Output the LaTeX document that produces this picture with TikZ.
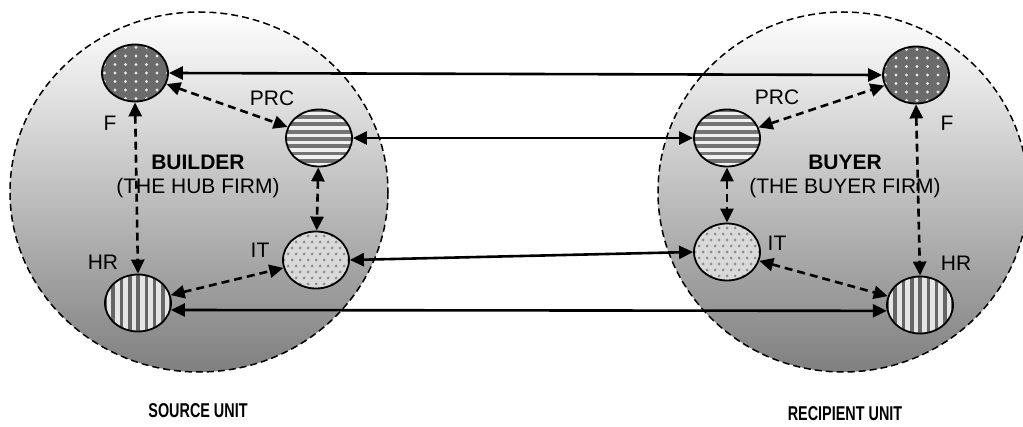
\documentclass[tikz,border=0pt]{standalone}
\usepackage{fontspec}
\setmainfont{Liberation Sans}
\usepackage{graphicx}
\usetikzlibrary{shapes.geometric,arrows.meta,calc}
\definecolor{fdark}{HTML}{6B6B6B}
\definecolor{itbg}{HTML}{D9D9D9}
\newcommand{\bigtxt}{\fontsize{21}{26}\selectfont}
\begin{document}
\begin{tikzpicture}[x=1pt,y=-1pt,
  unit/.style={draw=black,dash pattern=on 7pt off 4pt,line width=1.5pt,top color=white,bottom color=black!50,shading angle=0},
  dept/.style={ellipse,draw=black,line width=1.8pt,inner sep=0pt,minimum width=66pt,minimum height=57pt},
  ffill/.style={dept,fill=fdark,path picture={
     \foreach \i in {-3,...,3}{\foreach \j in {-4,...,4}{
       \fill[black!10] ($(path picture bounding box.center)+(\i*10.5+1,\j*8.5)$) circle (1.6pt);}}}},
  prcfill/.style={dept,fill=black!6,path picture={
     \foreach \j in {-4,...,4}{
       \draw[black!55,line width=3.8pt] ($(path picture bounding box.center)+(-40,\j*7.3+1)$) -- ++(80,0);}}},
  itfill/.style={dept,fill=itbg,path picture={
     \foreach \i in {-5,...,5}{\foreach \j in {-5,...,5}{
       \fill[black!45] ($(path picture bounding box.center)+(\i*8+\j*4,\j*6)$) circle (1.5pt);}}}},
  hrfill/.style={dept,fill=black!10,path picture={
     \foreach \i in {-5,...,5}{
       \draw[black!60,line width=3.6pt] ($(path picture bounding box.center)+(\i*8.3,-40)$) -- ++(0,80);}}},
  lbl/.style={font=\bigtxt,inner sep=0pt},
  unitlbl/.style={inner sep=0pt},
  solidarr/.style={{Triangle[length=14pt,width=13pt]}-{Triangle[length=14pt,width=13pt]},line width=2.6pt},
  dasharr/.style={{Triangle[length=14pt,width=13pt]}-{Triangle[length=14pt,width=13pt]},line width=2.6pt,dash pattern=on 8pt off 5pt}
]
\useasboundingbox (0,0) rectangle (1023,427);
% units
\path[unit] (199,192) ellipse [x radius=189, y radius=180];
\path[unit] (843,192) ellipse [x radius=185, y radius=180];
% central labels
\node[lbl,font=\bigtxt\bfseries] (bl1) at (198,162) {BUILDER};
\node[lbl] (bl2) at (198,188) {(THE HUB FIRM)};
\node[lbl,font=\bigtxt\bfseries] (br1) at (845,162) {BUYER};
\node[lbl] (br2) at (845,188) {(THE BUYER FIRM)};
% departments left
\node[ffill] (Fl) at (135,73) {};
\node[prcfill] (Pl) at (319,138) {};
\node[itfill] (Il) at (316,260) {};
\node[hrfill] (Hl) at (138,303) {};
% departments right
\node[ffill] (Fr) at (916,75) {};
\node[prcfill] (Pr) at (727,138) {};
\node[itfill] (Ir) at (727,252) {};
\node[hrfill] (Hr) at (920,305) {};
% labels
\node[lbl] (tFl) at (110,123) {F};
\node[lbl] (tPl) at (272,98) {PRC};
\node[lbl] (tIl) at (260,250) {IT};
\node[lbl] (tHl) at (103,262) {HR};
\node[lbl] (tFr) at (947,123) {F};
\node[lbl] (tPr) at (777,97) {PRC};
\node[lbl] (tIr) at (777,243) {IT};
\node[lbl] (tHr) at (956,263) {HR};
% intra-unit dashed links
\draw[dasharr] (Fl) -- (Pl);
\draw[dasharr] (Pl) -- (Il);
\draw[dasharr] (Fl.south) -- (Hl.north);
\draw[dasharr] (Hl) -- (Il);
\draw[dasharr] (Pr) -- (Fr);
\draw[dasharr] (Pr) -- (Ir);
\draw[dasharr] (Fr.south) -- (Hr.north);
\draw[dasharr] (Ir) -- (Hr);
% inter-unit solid links
\draw[solidarr] (Fl.east) -- (Fr.west);
\draw[solidarr] (Pl.east) -- (Pr.west);
\draw[solidarr] (Il.east) -- (Ir.west);
\draw[solidarr] (Hl.-12) -- (Hr.190);
% unit labels
\node[unitlbl] (su) at (198,411) {\scalebox{0.72}[1]{\fontsize{20}{24}\selectfont\bfseries SOURCE UNIT}};
\node[unitlbl] (ru) at (845,414) {\scalebox{0.72}[1]{\fontsize{20}{24}\selectfont\bfseries RECIPIENT UNIT}};
\end{tikzpicture}
\end{document}
